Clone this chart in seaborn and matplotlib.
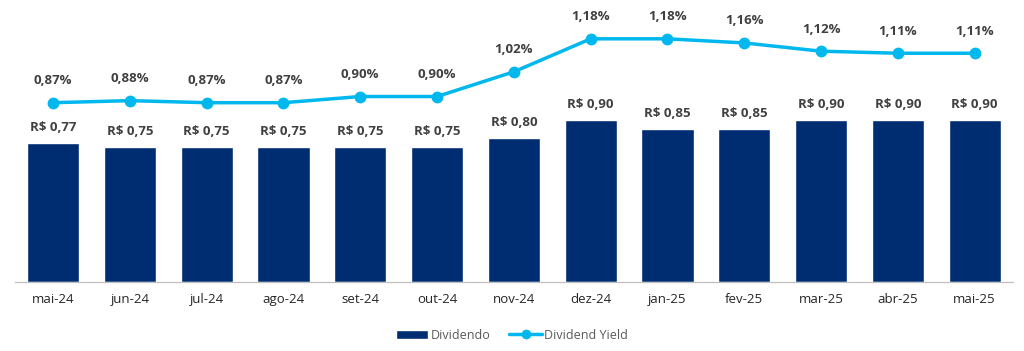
import numpy as np
import pandas as pd
import seaborn as sns
from matplotlib import pyplot as plt
from matplotlib.lines import Line2D
from matplotlib.patches import Patch

meses = ['mai-24', 'jun-24', 'jul-24', 'ago-24', 'set-24', 'out-24', 'nov-24',
         'dez-24', 'jan-25', 'fev-25', 'mar-25', 'abr-25', 'mai-25']
dividendo = [0.77, 0.75, 0.75, 0.75, 0.75, 0.75, 0.80, 0.90, 0.85, 0.85, 0.90, 0.90, 0.90]
dividend_yield = [0.87, 0.88, 0.87, 0.87, 0.90, 0.90, 1.02, 1.18, 1.18, 1.16, 1.12, 1.11, 1.11]

azul_escuro = '#002D72'
azul_claro = '#00B8EE'
cinza = '#404040'

sns.set_style('white')
plt.rcParams['font.family'] = ['Open Sans', 'DejaVu Sans']

df = pd.DataFrame({'mes': meses, 'dividendo': dividendo, 'dy': dividend_yield})

fig = plt.figure(figsize=(10.24, 3.51), dpi=100)
ax = fig.add_axes([0.0143, 0.1966, 0.9750, 0.775])

sns.barplot(data=df, x='mes', y='dividendo', color=azul_escuro, width=0.68,
            saturation=1, ax=ax)
ax.set_ylim(0, 1.51)
for i, v in enumerate(dividendo):
    ax.text(i, v + 0.05, 'R$ {:.2f}'.format(v).replace('.', ','), ha='center', va='bottom',
            fontsize=9.5, fontweight='bold', color=cinza)

ax2 = ax.twinx()
sns.lineplot(x=np.arange(len(meses)), y=dividend_yield, color=azul_claro, linewidth=2.5,
             marker='o', markersize=8.5, markeredgewidth=0, ax=ax2)
ax2.set_ylim(0, 1.32)
for i, v in enumerate(dividend_yield):
    ax2.text(i, v + 0.075, '{:.2f}%'.format(v).replace('.', ','), ha='center', va='bottom',
             fontsize=9.5, fontweight='bold', color=cinza)

for a in (ax, ax2):
    a.set_yticks([])
    a.set_ylabel('')
    for s in ['top', 'right', 'left']:
        a.spines[s].set_visible(False)
    a.spines['bottom'].set_color('#BFBFBF')
ax.set_xlabel('')
ax.set_xlim(-0.5, len(meses) - 0.5)
ax.tick_params(axis='x', length=0, pad=8, labelsize=9.5, labelcolor='#262626')

handles = [Patch(facecolor=azul_escuro, label='Dividendo'),
           Line2D([0], [0], color=azul_claro, linewidth=2.5, marker='o', markersize=6,
                  label='Dividend Yield')]
fig.legend(handles=handles, loc='center', bbox_to_anchor=(0.5, 0.045), ncol=2, frameon=False,
           fontsize=9, labelcolor='#595959', handlelength=2.6, columnspacing=1.5,
           handletextpad=0.2)

fig.savefig('out.png', dpi=100)
